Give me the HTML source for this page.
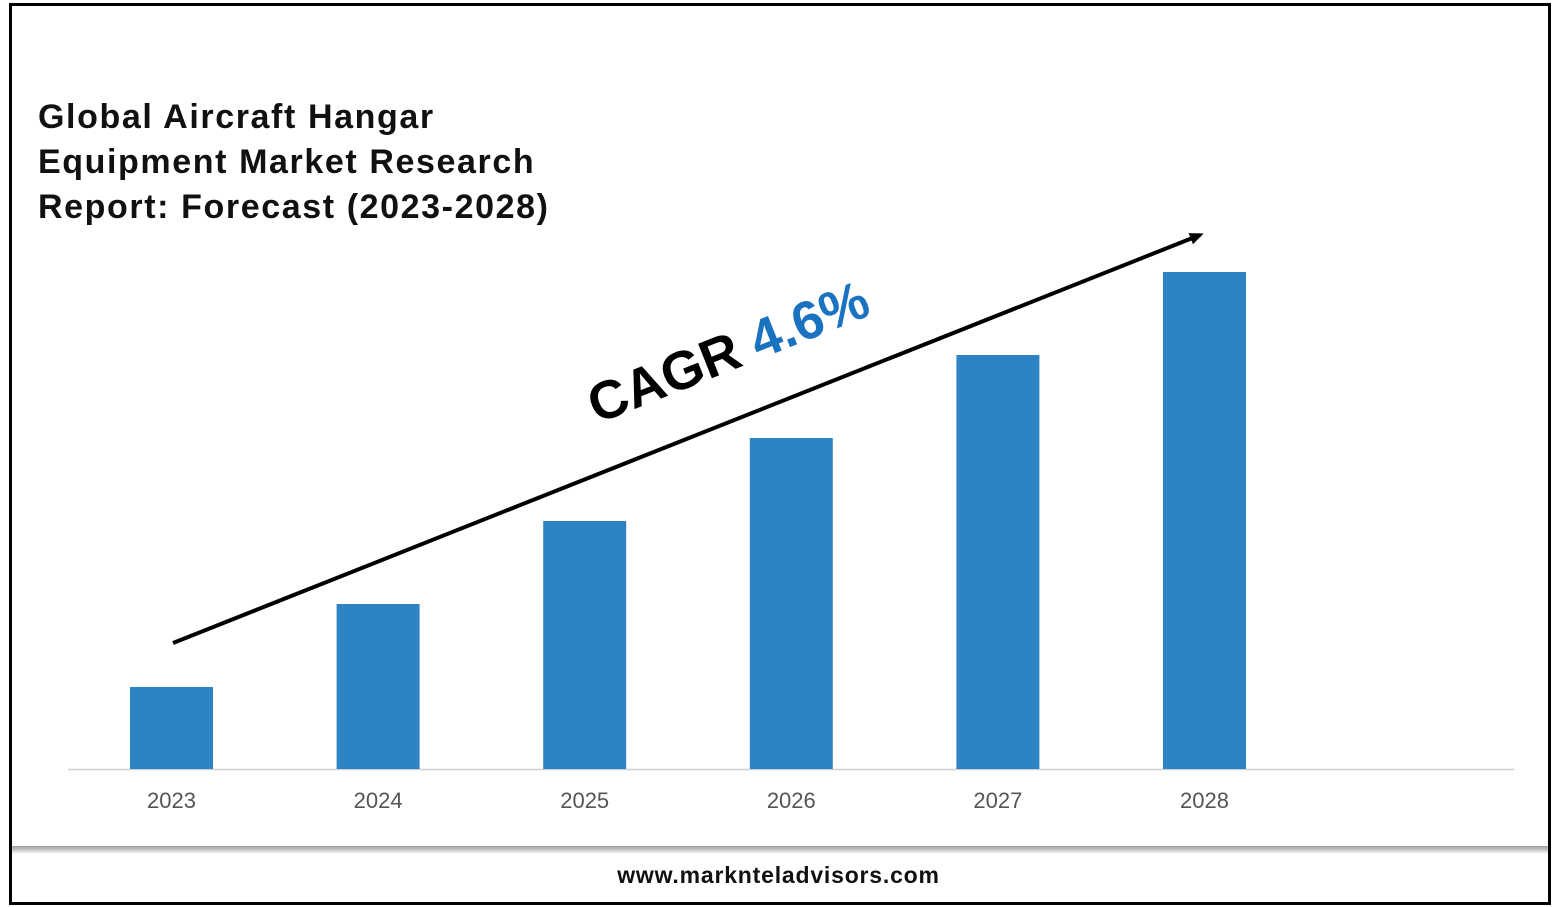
<!DOCTYPE html>
<html><head><meta charset="utf-8"><style>
html,body{margin:0;padding:0;background:#fff;}
body{width:1557px;height:907px;position:relative;overflow:hidden;font-family:"Liberation Sans",sans-serif;}
</style></head><body>
<div style="position:absolute;left:9px;top:3px;width:1536px;height:896px;border:3px solid #000;"></div>
<div style="position:absolute;left:12px;top:846px;width:1536px;height:8px;background:linear-gradient(#a0a0a0,#c8c8c8 50%,#fff);"></div>
<div style="position:absolute;left:38px;top:95px;font-size:34px;font-weight:bold;line-height:45px;color:#111;letter-spacing:1.6px;">Global Aircraft Hangar<br>Equipment Market Research<br>Report: Forecast (2023-2028)</div>
<div style="position:absolute;left:0;width:1557px;top:862px;text-align:center;font-size:23px;font-weight:bold;color:#111;letter-spacing:0.8px;">www.marknteladvisors.com</div>
<svg id="chart" width="1557" height="907" style="position:absolute;left:0;top:0">
<defs><marker id="ah" markerWidth="14" markerHeight="12" refX="10" refY="6" orient="auto" markerUnits="userSpaceOnUse"><path d="M0,0 L14,6 L0,12 z" fill="#000"/></marker></defs>
</svg>
<script>
const categories=["2023","2024","2025","2026","2027","2028"];
const values=[82,165,248,331,414,497];
const svg=document.getElementById('chart');
const NS='http://www.w3.org/2000/svg';
const x0=130,step=206.6,bw=83,base=769,yScale=v=>base-v*1;
const xPos=i=>x0+i*step;
const axis=document.createElementNS(NS,'line');
axis.setAttribute('x1',68);axis.setAttribute('x2',1514);axis.setAttribute('y1',base+0.5);axis.setAttribute('y2',base+0.5);
axis.setAttribute('stroke','#d0d0d0');axis.setAttribute('stroke-width','1.5');


svg.appendChild(axis);
categories.forEach((c,i)=>{
 const r=document.createElementNS(NS,'rect');
 r.setAttribute('x',xPos(i));r.setAttribute('width',bw);r.setAttribute('y',yScale(values[i]));r.setAttribute('height',base-yScale(values[i]));r.setAttribute('fill','#2e83c3');
 
 
 svg.appendChild(r);
 const t=document.createElementNS(NS,'text');
 t.setAttribute('x',xPos(i)+bw/2);t.setAttribute('y',808);t.setAttribute('text-anchor','middle');t.setAttribute('font-size','22');t.setAttribute('fill','#555');t.setAttribute('font-family','Liberation Sans, sans-serif');
 t.textContent=c;
 
 
 svg.appendChild(t);
});
const ar=document.createElementNS(NS,'line');
ar.setAttribute('x1',173);ar.setAttribute('y1',643);ar.setAttribute('x2',1200);ar.setAttribute('y2',235);
ar.setAttribute('stroke','#000');ar.setAttribute('stroke-width','4');ar.setAttribute('marker-end','url(#ah)');


svg.appendChild(ar);
const cg=document.createElementNS(NS,'text');
cg.setAttribute('transform','translate(597,424) rotate(-21.7)');
cg.setAttribute('font-size','54');cg.setAttribute('font-weight','bold');cg.setAttribute('font-family','Liberation Sans, sans-serif');
cg.innerHTML='<tspan fill="#000">CAGR </tspan><tspan fill="#1a73c0">4.6%</tspan>';


svg.appendChild(cg);
</script>
</body></html>
